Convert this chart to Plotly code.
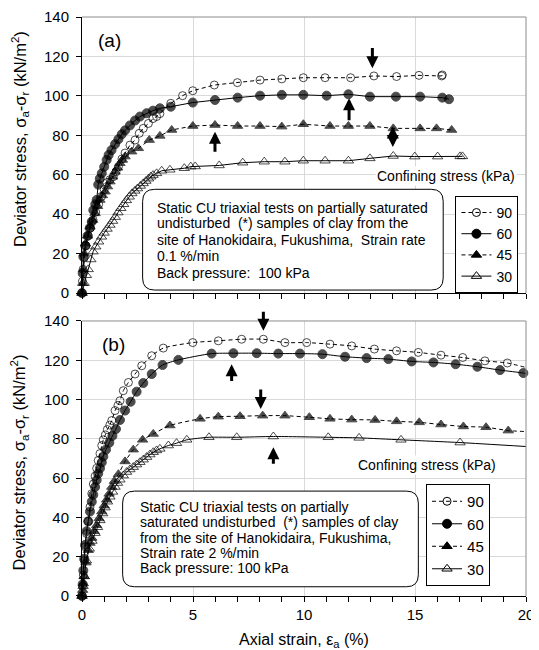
import plotly.graph_objects as go

# ---------------- Panel (a): strain rate 0.1 %/min ----------------
a90_x = [0, 0.02, 0.05, 0.1, 0.18, 0.28, 0.38, 0.5, 0.62, 0.75, 0.88, 1.0, 1.12, 1.26, 1.41, 1.53, 1.64, 1.8,
         1.94, 2.16, 2.39, 2.58, 2.76, 2.99, 3.2, 3.36, 3.51, 4.0, 4.53, 4.99, 5.96, 7.0, 8.02, 9.0, 9.97,
         10.95, 12.1, 13.15, 14.17, 15.18, 16.2, 16.23]
a90_y = [0, 6, 12, 18, 24, 29, 33, 37, 41, 45, 49, 52.5, 56, 57.5, 59, 61.5, 64, 68,
         71, 75, 77.6, 81, 83.5, 86, 88.5, 89.5, 91, 96.2, 100.1, 102.6, 105.5, 106.7, 108, 108.6, 109.2,
         109.2, 109.2, 110.1, 109.8, 110.4, 110.1, 110.6]

a60_x = [0, 0.03, 0.06, 0.15, 0.25, 0.35, 0.44, 0.51, 0.6, 0.66, 0.73, 0.8, 0.89, 1.0, 1.11, 1.2, 1.33, 1.49,
         1.64, 1.79, 1.94, 2.16, 2.39, 2.61, 2.91, 3.2, 3.51, 4.0, 4.99, 5.99, 7.01, 8.02, 9.0, 9.97, 11.02,
         12.0, 12.97, 14.14, 15.23, 16.23, 16.53]
a60_y = [0, 10, 18.4, 24, 29, 33, 36.2, 42, 45, 47.2, 55, 58, 60.7, 64, 67.5, 70, 72.5, 75.5,
         78, 80.5, 82.5, 85, 87.5, 89.5, 91.2, 92.5, 93.7, 94.5, 96.6, 97.9, 99.1, 100.1, 100.5, 100.5, 100.1,
         100.8, 99.6, 99.6, 99.6, 99.1, 98.3]

a45_x = [0, 0.03, 0.06, 0.1, 0.15, 0.25, 0.36, 0.48, 0.59, 0.7, 0.81, 0.92, 1.04, 1.15, 1.26, 1.38, 1.49, 1.6,
         1.71, 1.82, 1.94, 2.24, 2.54, 3.03, 3.51, 4.04, 4.99, 5.99, 7.01, 8.02, 9.0, 9.97, 11.17, 12.0,
         12.97, 14.02, 15.23, 15.97, 16.65]
a45_y = [0, 5, 12, 20, 25, 29, 33.6, 37, 40.4, 44, 47.2, 49.5, 51.4, 54, 56.5, 59, 61.5, 63.5,
         65.8, 67.5, 69.2, 71.7, 73.4, 77.6, 79.7, 82.7, 84.7, 85.2, 84.7, 84.7, 84.4, 85.6, 84.7, 84.7,
         84.7, 83.5, 83.5, 83.5, 82.7]

a30_x = [0, 0.1, 0.2, 0.28, 0.4, 0.5, 0.62, 0.75, 0.88, 1.0, 1.13, 1.26, 1.38, 1.5, 1.62, 1.75, 1.88, 2.0,
         2.13, 2.25, 2.38, 2.5, 2.63, 2.76, 2.88, 3.0, 3.1, 3.2, 3.36, 3.59, 3.96, 4.61, 4.9, 5.1, 6.18,
         7.24, 8.21, 9.14, 9.97, 10.95, 12.0, 12.97, 14.02, 14.99, 16.02, 17.03, 17.14]
a30_y = [0, 5, 9, 12, 17, 21, 23.5, 26, 28.5, 30.5, 32.5, 34.5, 36.5, 38.5, 40.8, 43, 45, 47,
         48.8, 50.5, 51.8, 53, 54.3, 55.6, 56.8, 58, 59, 59.8, 60.7, 62, 62.5, 63.3, 64.1, 64.2, 64.7,
         66.1, 66.6, 66.6, 67.1, 67.1, 67.1, 68.3, 69.5, 69.2, 69.2, 69.3, 69.3]

# ---------------- Panel (b): strain rate 2 %/min ----------------
b90_x = [0, 0.03, 0.06, 0.1, 0.14, 0.21, 0.28, 0.36, 0.44, 0.51, 0.59, 0.66, 0.73, 0.81, 0.89, 0.96, 1.05,
         1.14, 1.25, 1.34, 1.49, 1.62, 1.71, 1.86, 2.09, 2.39, 2.69, 3.14, 3.66, 4.99, 6.14, 7.19, 8.17,
         9.14, 10.12, 11.17, 12.15, 13.17, 14.17, 15.15, 16.17, 17.15, 18.15, 19.16]
b90_y = [0, 5, 10.7, 18, 25, 31.8, 38, 45.3, 52.1, 57, 61, 65, 69, 72.5, 76.6, 79.5, 82,
         84.7, 87, 89.3, 94.4, 97, 99.4, 104.5, 108.7, 113, 117.2, 122.3, 126.2, 129, 129.9, 130.7, 130.7,
         129, 129, 128.2, 127.3, 125.7, 124.8, 124, 122.6, 121.4, 119.7, 118.6]
b90_end = 116.3

b60_x = [0, 0.03, 0.06, 0.1, 0.14, 0.21, 0.28, 0.36, 0.44, 0.51, 0.59, 0.66, 0.73, 0.81, 0.89, 0.96, 1.08,
         1.23, 1.37, 1.53, 1.71, 1.94, 2.19, 2.46, 2.76, 3.14, 3.63, 4.34, 5.84, 6.82, 7.87, 8.84, 9.82,
         10.83, 11.85, 12.82, 13.8, 14.85, 15.83, 16.83, 17.81, 18.83, 19.88]
b60_y = [0, 6, 13, 19, 26, 33, 38, 43, 48, 51.5, 55.5, 59, 62.3, 65, 68, 71, 74.5,
         78, 81.5, 85, 89.6, 94.4, 98.9, 104, 108.4, 113, 117.6, 120.2, 123.4, 123.6, 123.6, 123.4, 123.4,
         123.1, 121.8, 121.1, 120.6, 119.4, 118.9, 118, 116.7, 115, 113.5]
b60_end = 113.2

b45_x = [0, 0.03, 0.06, 0.1, 0.18, 0.28, 0.36, 0.44, 0.55, 0.66, 0.77, 0.89, 1.0, 1.11, 1.22, 1.34, 1.46,
         1.64, 1.94, 2.31, 2.73, 3.21, 3.96, 5.32, 6.14, 7.12, 8.14, 9.14, 10.24, 11.17, 12.15, 13.2, 14.17,
         15.19, 16.17, 17.18, 18.2, 19.2]
b45_y = [0, 3, 6.4, 10, 17, 23.3, 27, 29.5, 33, 36, 39.5, 43, 46, 49, 52, 55.5, 58.5,
         62, 68.5, 74.5, 79.5, 82.5, 86.8, 90.2, 91.3, 91.5, 91.8, 91.8, 91, 90.2, 89.8, 89.6, 88.9,
         88.4, 87.3, 86.3, 85.9, 84.2]
b45_end = 83.7

b30_x = [0, 0.05, 0.1, 0.2, 0.33, 0.45, 0.59, 0.7, 0.81, 0.93, 1.04, 1.15, 1.26, 1.38, 1.49, 1.6, 1.71,
         1.86, 2.01, 2.16, 2.31, 2.46, 2.61, 2.76, 2.91, 3.06, 3.21, 3.36, 3.51, 3.89, 4.26, 4.72, 5.72,
         6.97, 8.62, 11.09, 12.48, 14.37, 17.03]
b30_y = [0, 5, 10, 18, 24, 28, 32, 35, 38.5, 42, 45, 48, 50.5, 53, 55.5, 57.5, 59.2,
         61.3, 63.1, 64.4, 65.6, 66.9, 68.1, 69.4, 70.7, 72, 73.2, 74.1, 74.9, 76.6, 77.8, 79.5, 80.8,
         80.8, 81.2, 80.8, 80.5, 79.5, 78.1]
b30_end = 76.1

X_END = 20

legend_names = ["90", "60", "45", "30"]
legend_title = "Confining stress (kPa)"

# arrows: (x, tail y, head y)
a_arrows = [(13.08, 125, 114), (12.03, 86.9, 98.8), (5.99, 70.9, 81.8)]
a_double_arrow = (14.0, 85.2, 74.1)
b_arrows = [(8.17, 145.5, 135), (6.74, 108.7, 118), (8.05, 105.9, 95.2), (8.62, 66.5, 75.7)]

a_text = ["Static CU triaxial tests on partially saturated",
          "undisturbed  (*) samples of clay from the",
          "site of Hanokidaira, Fukushima,  Strain rate",
          "0.1 %/min",
          "Back pressure:  100 kPa"]
b_text = ["Static CU triaxial tests on partially",
          "saturated undisturbed  (*) samples of clay",
          "from the site of Hanokidaira, Fukushima,",
          "Strain rate 2 %/min",
          "Back pressure: 100 kPa"]

FONT = "Liberation Sans, Arial, sans-serif"

styles = {
    "90": dict(symbol="circle-open", size=8, dash="4px,3px"),
    "60": dict(symbol="circle", size=9, dash="solid"),
    "45": dict(symbol="triangle-up", size=9, dash="4px,3px"),
    "30": dict(symbol="triangle-up-open", size=9, dash="solid"),
}

fig = go.Figure()

def add_series(x, y, name, xa, ya, shape, end=None):
    st = styles[name]
    xs = list(x)
    ys = list(y)
    sizes = [st["size"]] * len(xs)
    if end is not None:
        xs.append(X_END)
        ys.append(end)
        sizes.append(0)
    fig.add_trace(go.Scatter(
        x=xs, y=ys, mode="lines+markers", xaxis=xa, yaxis=ya, showlegend=False,
        cliponaxis=False,
        line=dict(color="black", width=1, dash=st["dash"], shape=shape, smoothing=0.6),
        marker=dict(symbol=st["symbol"], size=sizes, color="black",
                    line=dict(color="black", width=1)),
    ))

add_series(a90_x, a90_y, "90", "x", "y", "linear")
add_series(a60_x, a60_y, "60", "x", "y", "linear")
add_series(a45_x, a45_y, "45", "x", "y", "linear")
add_series(a30_x, a30_y, "30", "x", "y", "linear")
add_series(b90_x, b90_y, "90", "x2", "y2", "spline", b90_end)
add_series(b60_x, b60_y, "60", "x2", "y2", "spline", b60_end)
add_series(b45_x, b45_y, "45", "x2", "y2", "spline", b45_end)
add_series(b30_x, b30_y, "30", "x2", "y2", "spline", b30_end)

# legend entries
for lg, xa, ya in (("legend", "x", "y"), ("legend2", "x2", "y2")):
    for n in legend_names:
        st = styles[n]
        fig.add_trace(go.Scatter(
            x=[None], y=[None], mode="lines+markers", name=n, legend=lg, xaxis=xa, yaxis=ya,
            line=dict(color="black", width=1, dash=st["dash"]),
            marker=dict(symbol=st["symbol"], size=st["size"], color="black",
                        line=dict(color="black", width=1)),
        ))

axis_common = dict(
    showline=True, linecolor="black", linewidth=1, mirror=False, automargin=False,
    showgrid=True, gridcolor="#d9d9d9", gridwidth=1, zeroline=False,
    ticks="outside", ticklen=5, tickcolor="black", tickwidth=1,
    tickfont=dict(family=FONT, size=15, color="black"),
)

xaxis_common = dict(axis_common, range=[0, X_END], dtick=5, tick0=0,
                    minor=dict(dtick=1, ticks="outside", ticklen=5, tickcolor="black", showgrid=False))
yaxis_common = dict(axis_common, range=[0, 140], dtick=20, tick0=0, ticklabelstandoff=4)

# page body has an 8px margin: figure sized so the plot areas land where the reference has them
fig.update_layout(
    width=531, height=642,
    margin=dict(l=74, r=13, t=9, b=54),
    paper_bgcolor="white", plot_bgcolor="white",
    font=dict(family=FONT, color="black"),
    xaxis=dict(xaxis_common, domain=[0, 1], anchor="y", showticklabels=False),
    yaxis=dict(yaxis_common, domain=[0.5233, 1], anchor="x"),
    xaxis2=dict(xaxis_common, domain=[0, 1], anchor="y2"),
    yaxis2=dict(yaxis_common, domain=[0, 0.475], anchor="x2"),
    legend=dict(x=0.983, y=0.691, xanchor="right", yanchor="top", bgcolor="white",
                bordercolor="black", borderwidth=1, font=dict(family=FONT, size=14),
                tracegroupgap=0, itemwidth=30),
    legend2=dict(x=0.919, y=0.1934, xanchor="right", yanchor="top", bgcolor="white",
                 bordercolor="black", borderwidth=1, font=dict(family=FONT, size=15),
                 tracegroupgap=0, itemwidth=30),
)

shapes = []
# gray top/right border of the plot areas
for xr, yr in (("x domain", "y domain"), ("x2 domain", "y2 domain")):
    shapes.append(dict(type="line", xref=xr, yref=yr, x0=0, x1=1, y0=1, y1=1,
                       line=dict(color="#8c8c8c", width=1), layer="above"))
    shapes.append(dict(type="line", xref=xr, yref=yr, x0=1, x1=1, y0=0, y1=1,
                       line=dict(color="#8c8c8c", width=1), layer="above"))

def rounded_box(x0, x1, y0, y1, rx, ry):
    return (f"M {x0+rx},{y1} L {x1-rx},{y1} Q {x1},{y1} {x1},{y1-ry} "
            f"L {x1},{y0+ry} Q {x1},{y0} {x1-rx},{y0} L {x0+rx},{y0} "
            f"Q {x0},{y0} {x0},{y0+ry} L {x0},{y1-ry} Q {x0},{y1} {x0+rx},{y1} Z")

RX, RY = 12 / 22.2, 12 / 1.971
shapes.append(dict(type="path", xref="x", yref="y", path=rounded_box(2.73, 16.27, 1.5, 52.6, RX, RY),
                   line=dict(color="black", width=1), fillcolor="white", layer="above"))
shapes.append(dict(type="path", xref="x2", yref="y2", path=rounded_box(1.83, 15.15, 4.7, 53.4, RX, RY),
                   line=dict(color="black", width=1), fillcolor="white", layer="above"))
fig.update_layout(shapes=shapes)

ann = []
a_text_y = [43.0, 35.4, 26.9, 18.8, 10.3]
b_text_y = [45.4, 37.6, 29.7, 21.8, 14.0]
for t, yy in zip(a_text, a_text_y):
    ann.append(dict(x=3.3, y=yy, xref="x", yref="y", text=t, showarrow=False, xanchor="left",
                    yanchor="middle", font=dict(family=FONT, size=14)))
for t, yy in zip(b_text, b_text_y):
    ann.append(dict(x=2.5, y=yy, xref="x2", yref="y2", text=t, showarrow=False, xanchor="left",
                    yanchor="middle", font=dict(family=FONT, size=14)))

arrow_style = dict(showarrow=True, arrowhead=2, arrowsize=0.8, arrowwidth=3, arrowcolor="black",
                   text="", standoff=0, startstandoff=0)
for (xx, ytail, yhead) in a_arrows:
    ann.append(dict(arrow_style, x=xx, y=yhead, ax=xx, ay=ytail, xref="x", yref="y", axref="x", ayref="y"))
xx, yt, yh = a_double_arrow
ann.append(dict(arrow_style, x=xx, y=yh, ax=xx, ay=yt, xref="x", yref="y", axref="x", ayref="y",
                arrowside="end+start"))
for (xx, ytail, yhead) in b_arrows:
    ann.append(dict(arrow_style, x=xx, y=yhead, ax=xx, ay=ytail, xref="x2", yref="y2", axref="x2", ayref="y2"))

# legend headings
ann.append(dict(x=0.98, y=0.7254, xref="paper", yref="paper", text=legend_title, showarrow=False,
                xanchor="right", yanchor="middle", bgcolor="white", font=dict(family=FONT, size=14)))
ann.append(dict(x=0.937, y=0.2263, xref="paper", yref="paper", text=legend_title, showarrow=False,
                xanchor="right", yanchor="middle", bgcolor="white", font=dict(family=FONT, size=14)))

# panel labels
ann.append(dict(x=0.063, y=0.960, xref="paper", yref="paper", text="(a)", showarrow=False,
                xanchor="center", yanchor="middle", font=dict(family=FONT, size=19)))
ann.append(dict(x=0.070, y=0.435, xref="paper", yref="paper", text="(b)", showarrow=False,
                xanchor="center", yanchor="middle", font=dict(family=FONT, size=19)))

# axis titles
ytitle = "Deviator stress, σ<sub>a</sub>-σ<sub>r</sub> (kN/m<sup>2</sup>)"
for yy in (0.790, 0.2314):
    ann.append(dict(x=-0.141, y=yy, xref="paper", yref="paper", text=ytitle, showarrow=False,
                    textangle=-90, xanchor="center", yanchor="middle", font=dict(family=FONT, size=16.5)))
ann.append(dict(x=0.499, y=-0.076, xref="paper", yref="paper", text="Axial strain, ε<sub>a</sub> (%)",
                showarrow=False, xanchor="center", yanchor="middle", font=dict(family=FONT, size=16)))

fig.update_layout(annotations=ann)

fig.write_html("out.html")
